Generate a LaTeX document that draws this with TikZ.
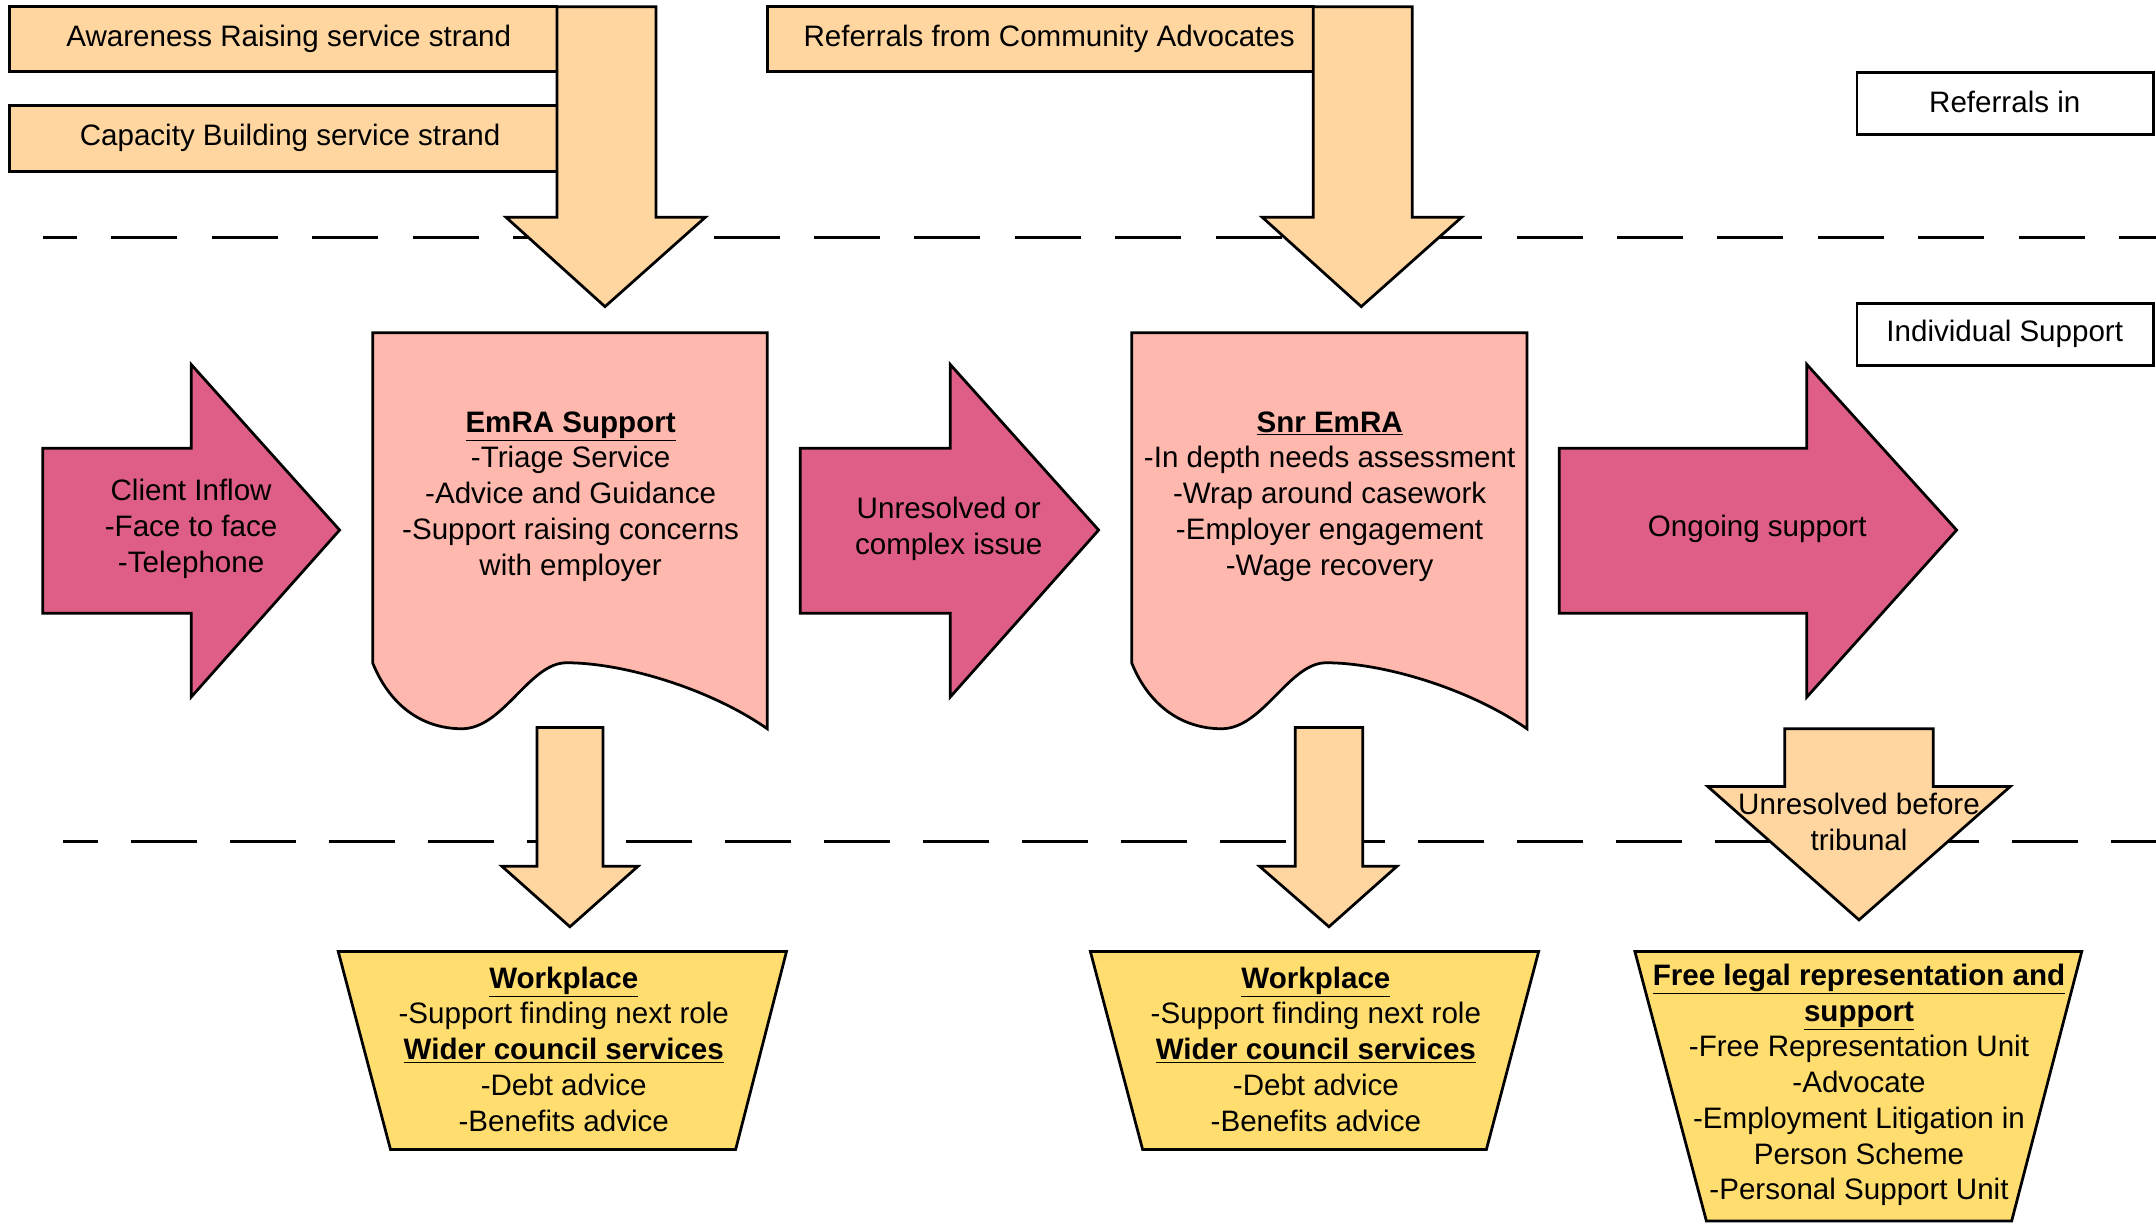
\documentclass[tikz,border=0pt]{standalone}
\usepackage{fontspec}
\setmainfont{Liberation Sans}
\definecolor{lorange}{HTML}{FFD6A0}
\definecolor{lpink}{HTML}{FFB8AD}
\definecolor{magarrow}{HTML}{DE5E86}
\definecolor{lyellow}{HTML}{FFDD6E}
\newcommand\ulb[1]{\underline{\textbf{#1}}}
\tikzset{
  shp/.style={draw=black, line width=2pt, line join=miter},
  orangeshp/.style={shp, fill=lorange},
  pinkshp/.style={shp, fill=lpink},
  magshp/.style={shp, fill=magarrow},
  yellowshp/.style={shp, fill=lyellow},
  whitebox/.style={shp, fill=white},
  txt/.style={align=center, font=\fontsize{21.5pt}{26pt}\selectfont, inner sep=0pt, text=black},
  divider/.style={line width=2pt, dash pattern=on 48pt off 25pt}
}
\begin{document}
\begin{tikzpicture}[x=1pt,y=-1pt]
\useasboundingbox (0,0) rectangle (1568,890);
\fill[white] (0,0) rectangle (1568,890);

% dashed dividers
\coordinate (d1a) at (31.5,173);
\coordinate (d1b) at (1568,173);
\coordinate (d2a) at (46,612);
\coordinate (d2b) at (1568,612);
\draw[divider, dash phase=23.5pt] (d1a) -- (d1b);
\draw[divider, dash pattern=on 48pt off 24pt, dash phase=23pt] (d2a) -- (d2b);

% top boxes
\draw[orangeshp] (7,5) rectangle (405,52);
\draw[orangeshp] (7,77) rectangle (405,125);
\draw[orangeshp] (558,5) rectangle (955,52);
\node[txt] (aw) at (210,28) {Awareness Raising service strand};
\node[txt] (cap) at (211,100) {Capacity Building service strand};
\node[txt] (rfc) at (763,28) {Referrals from Community Advocates};

% down arrows from top
\draw[orangeshp] (405,5) -- (477,5) -- (477,158) -- (513,158) -- (440,223) -- (368,158) -- (405,158) -- cycle;
\draw[orangeshp] (955,5) -- (1027,5) -- (1027,158) -- (1063,158) -- (990,223) -- (918,158) -- (955,158) -- cycle;

% legend boxes
\draw[whitebox] (1350.5,53) rectangle (1566,98);
\node[txt] (refin) at (1458,74) {Referrals in};
\draw[whitebox] (1350.5,221) rectangle (1566,266);
\node[txt] (indsup) at (1458,243) {Individual Support};

% right arrows
\draw[magshp] (31,326) -- (139,326) -- (139,265) -- (247,385.5) -- (139,507) -- (139,446) -- (31,446) -- cycle;
\node[txt] (client) at (139,384.5) {Client Inflow\\-Face to face\\-Telephone};

\draw[magshp] (582,326) -- (691,326) -- (691,265) -- (799,385.5) -- (691,507) -- (691,446) -- (582,446) -- cycle;
\node[txt] (unres) at (690,384.5) {Unresolved or\\complex issue};

\draw[magshp] (1134,326) -- (1314,326) -- (1314,265) -- (1423,385.5) -- (1314,507) -- (1314,446) -- (1134,446) -- cycle;
\node[txt] (ongo) at (1278,384.5) {Ongoing support};

% document shapes
\draw[pinkshp] (271,482) -- (271,242) -- (558,242) -- (558,530)
  .. controls (515,500) and (452,482) .. (412,482)
  .. controls (385,482) and (366,530) .. (336,530)
  .. controls (306,530) and (283,512) .. (271,482) -- cycle;
\node[txt] (emra) at (415,361) {\ulb{EmRA Support}\\-Triage Service\\-Advice and Guidance\\-Support raising concerns\\with employer};

\draw[pinkshp] (823,482) -- (823,242) -- (1110.5,242) -- (1110.5,530)
  .. controls (1067.5,500) and (1004.5,482) .. (964.5,482)
  .. controls (937.5,482) and (918.5,530) .. (888.5,530)
  .. controls (858.5,530) and (835,512) .. (823,482) -- cycle;
\node[txt] (snr) at (967,361) {\ulb{Snr EmRA}\\-In depth needs assessment\\-Wrap around casework\\-Employer engagement\\-Wage recovery};

% down arrows to outcomes
\draw[orangeshp] (390.5,529) -- (438.5,529) -- (438.5,630) -- (464,630) -- (414.5,674) -- (365,630) -- (390.5,630) -- cycle;
\draw[orangeshp] (942,529) -- (991,529) -- (991,630) -- (1016,630) -- (966.5,674) -- (916,630) -- (942,630) -- cycle;
\draw[orangeshp] (1298,530) -- (1406,530) -- (1406,572) -- (1462,572) -- (1352,669) -- (1242,572) -- (1298,572) -- cycle;
\node[txt] (trib) at (1352,598) {Unresolved before\\tribunal};

% trapezoids
\draw[yellowshp] (246,692) -- (572,692) -- (535,836) -- (284,836) -- cycle;
\node[txt] (wp1) at (410,763) {\ulb{Workplace}\\-Support finding next role\\\ulb{Wider council services}\\-Debt advice\\-Benefits advice};

\draw[yellowshp] (793,692) -- (1119,692) -- (1081,836) -- (831,836) -- cycle;
\node[txt] (wp2) at (957,763) {\ulb{Workplace}\\-Support finding next role\\\ulb{Wider council services}\\-Debt advice\\-Benefits advice};

\draw[yellowshp] (1189,692) -- (1514,692) -- (1463,888) -- (1241,888) -- cycle;
\node[txt] (legal) at (1352,789) {\ulb{Free legal representation and}\\\ulb{support}\\-Free Representation Unit\\-Advocate\\-Employment Litigation in\\Person Scheme\\-Personal Support Unit};
\end{tikzpicture}
\end{document}
